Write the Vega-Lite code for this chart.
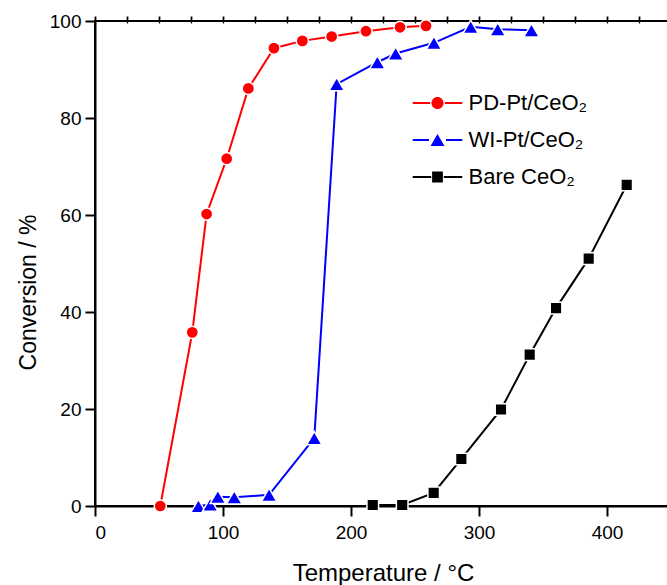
{
  "$schema": "https://vega.github.io/schema/vega-lite/v6.json",
  "width": 576,
  "height": 485,
  "autosize": {"type": "none"},
  "padding": {"left": 95, "top": 21, "right": 0, "bottom": 79},
  "background": "white",
  "config": {
    "font": "Liberation Sans",
    "view": {"stroke": "black", "strokeWidth": 2},
    "axis": {
      "labelFont": "Liberation Sans",
      "titleFont": "Liberation Sans",
      "labelColor": "black",
      "titleColor": "black",
      "titleFontWeight": "normal",
      "domainColor": "black",
      "tickColor": "black",
      "grid": false
    }
  },
  "data": {
    "values": [
      {"series": "PD-Pt/CeO₂", "T": 51, "C": 0},
      {"series": "PD-Pt/CeO₂", "T": 76, "C": 35.8},
      {"series": "PD-Pt/CeO₂", "T": 87.2, "C": 60.2},
      {"series": "PD-Pt/CeO₂", "T": 102.9, "C": 71.6},
      {"series": "PD-Pt/CeO₂", "T": 119.8, "C": 86.1},
      {"series": "PD-Pt/CeO₂", "T": 139.8, "C": 94.4},
      {"series": "PD-Pt/CeO₂", "T": 162, "C": 95.9},
      {"series": "PD-Pt/CeO₂", "T": 184.9, "C": 96.8},
      {"series": "PD-Pt/CeO₂", "T": 211.7, "C": 97.9},
      {"series": "PD-Pt/CeO₂", "T": 238.3, "C": 98.7},
      {"series": "PD-Pt/CeO₂", "T": 258.6, "C": 99},
      {"series": "WI-Pt/CeO₂", "T": 80.8, "C": 0},
      {"series": "WI-Pt/CeO₂", "T": 90, "C": 0.3},
      {"series": "WI-Pt/CeO₂", "T": 96, "C": 1.9},
      {"series": "WI-Pt/CeO₂", "T": 108.8, "C": 1.8},
      {"series": "WI-Pt/CeO₂", "T": 136, "C": 2.3},
      {"series": "WI-Pt/CeO₂", "T": 171.3, "C": 14},
      {"series": "WI-Pt/CeO₂", "T": 188.8, "C": 87},
      {"series": "WI-Pt/CeO₂", "T": 220.6, "C": 91.5},
      {"series": "WI-Pt/CeO₂", "T": 234.9, "C": 93.3},
      {"series": "WI-Pt/CeO₂", "T": 264.8, "C": 95.5},
      {"series": "WI-Pt/CeO₂", "T": 293.5, "C": 98.8},
      {"series": "WI-Pt/CeO₂", "T": 314.6, "C": 98.3},
      {"series": "WI-Pt/CeO₂", "T": 341, "C": 98.1},
      {"series": "Bare CeO₂", "T": 217, "C": 0.2},
      {"series": "Bare CeO₂", "T": 240, "C": 0.2},
      {"series": "Bare CeO₂", "T": 264.6, "C": 2.7},
      {"series": "Bare CeO₂", "T": 286.2, "C": 9.7},
      {"series": "Bare CeO₂", "T": 317.2, "C": 19.9},
      {"series": "Bare CeO₂", "T": 339.6, "C": 31.2},
      {"series": "Bare CeO₂", "T": 360.2, "C": 40.8},
      {"series": "Bare CeO₂", "T": 385.7, "C": 51},
      {"series": "Bare CeO₂", "T": 415.4, "C": 66.2}
    ]
  },
  "resolve": {"axis": {"x": "independent", "y": "independent"}},
  "layer": [
    {
      "mark": {"type": "line", "strokeWidth": 2, "clip": false},
      "encoding": {
        "x": {
          "field": "T", "type": "quantitative",
          "scale": {"domain": [0, 450], "nice": false, "zero": false},
          "axis": {
            "values": [0, 100, 200, 300, 400],
            "tickSize": 10, "tickWidth": 2, "domainWidth": 2,
            "labelFontSize": 19, "labelPadding": 7,
            "title": "Temperature / °C", "titleFontSize": 24, "titlePadding": 19
          }
        },
        "y": {
          "field": "C", "type": "quantitative",
          "scale": {"domain": [0, 100], "nice": false},
          "axis": {
            "values": [0, 20, 40, 60, 80, 100],
            "tickSize": 10, "tickWidth": 2, "domainWidth": 2,
            "labelFontSize": 19, "labelPadding": 4,
            "title": "Conversion / %", "titleFontSize": 23, "titlePadding": 9, "titleY": 271
          }
        },
        "color": {
          "field": "series", "type": "nominal",
          "scale": {"domain": ["PD-Pt/CeO₂", "WI-Pt/CeO₂", "Bare CeO₂"], "range": ["#ff0000", "#0000ff", "#000000"]},
          "legend": {
            "orient": "none", "legendX": 318, "legendY": 71,
            "title": null, "padding": 0,
            "labelFont": "Liberation Sans", "labelFontSize": 22, "labelColor": "black",
            "symbolSize": 121, "symbolStrokeWidth": 0,
            "symbolOffset": 13.5, "labelOffset": 20, "rowPadding": 15,
            "encode": {
              "symbols": {
                "update": {
                  "shape": {"signal": "datum.value === 'PD-Pt/CeO₂' ? 'M-4.5,-0.18H-1.35V0.18H-4.5Z M1.35,-0.18H4.5V0.18H1.35Z M-1.1,0A1.1,1.1 0 1,0 1.1,0A1.1,1.1 0 1,0 -1.1,0Z' : datum.value === 'WI-Pt/CeO₂' ? 'M-4.5,-0.18H-1.55V0.18H-4.5Z M1.55,-0.18H4.5V0.18H1.55Z M0,-1.1L1.27,1.1L-1.27,1.1Z' : 'M-4.5,-0.18H-1.15V0.18H-4.5Z M1.15,-0.18H4.5V0.18H1.15Z M-0.98,-0.98H0.98V0.98H-0.98Z'"},
                  "fill": {"signal": "datum.value === 'PD-Pt/CeO₂' ? '#ff0000' : datum.value === 'WI-Pt/CeO₂' ? '#0000ff' : '#000000'"},
                  "stroke": {"value": "transparent"},
                  "size": {"value": 121},
                  "opacity": {"value": 1},
                  "strokeWidth": {"value": 0}
                }
              }
            }
          }
        },
        "detail": {"field": "series"}
      }
    },
    {
      "transform": [{"filter": "datum.series === 'PD-Pt/CeO₂'"}],
      "mark": {"type": "point", "shape": "circle", "size": 150, "filled": true, "fill": "#ff0000", "opacity": 1, "stroke": "white", "strokeWidth": 1.5, "clip": false},
      "encoding": {
        "x": {
          "field": "T", "type": "quantitative",
          "axis": {
            "values": [0, 25, 50, 75, 100, 125, 150, 175, 200, 225, 250, 275, 300, 325, 350, 375, 400, 425, 450],
            "tickSize": 5, "tickWidth": 1.8, "domain": false, "labels": false, "title": null
          }
        },
        "y": {
          "field": "C", "type": "quantitative",
          "axis": {
            "values": [0, 5, 10, 15, 20, 25, 30, 35, 40, 45, 50, 55, 60, 65, 70, 75, 80, 85, 90, 95, 100],
            "tickSize": 5, "tickWidth": 1.8, "domain": false, "labels": false, "title": null
          }
        }
      }
    },
    {
      "transform": [{"filter": "datum.series === 'WI-Pt/CeO₂'"}],
      "mark": {"type": "point", "shape": "triangle-up", "size": 240, "filled": true, "fill": "#0000ff", "opacity": 1, "stroke": "white", "strokeWidth": 1.5, "clip": false},
      "encoding": {
        "x": {
          "field": "T", "type": "quantitative",
          "axis": {
            "orient": "top",
            "values": [0, 25, 50, 75, 100, 125, 150, 175, 200, 225, 250, 275, 300, 325, 350, 375, 400, 425, 450],
            "tickSize": -2, "tickWidth": 1.2, "domain": false, "labels": false, "title": null
          }
        },
        "y": {"field": "C", "type": "quantitative", "axis": null}
      }
    },
    {
      "transform": [{"filter": "datum.series === 'Bare CeO₂'"}],
      "mark": {"type": "point", "shape": "square", "size": 135, "filled": true, "fill": "#000000", "opacity": 1, "stroke": "white", "strokeWidth": 1.5, "clip": false},
      "encoding": {
        "x": {"field": "T", "type": "quantitative", "axis": null},
        "y": {"field": "C", "type": "quantitative", "axis": null}
      }
    }
  ]
}
